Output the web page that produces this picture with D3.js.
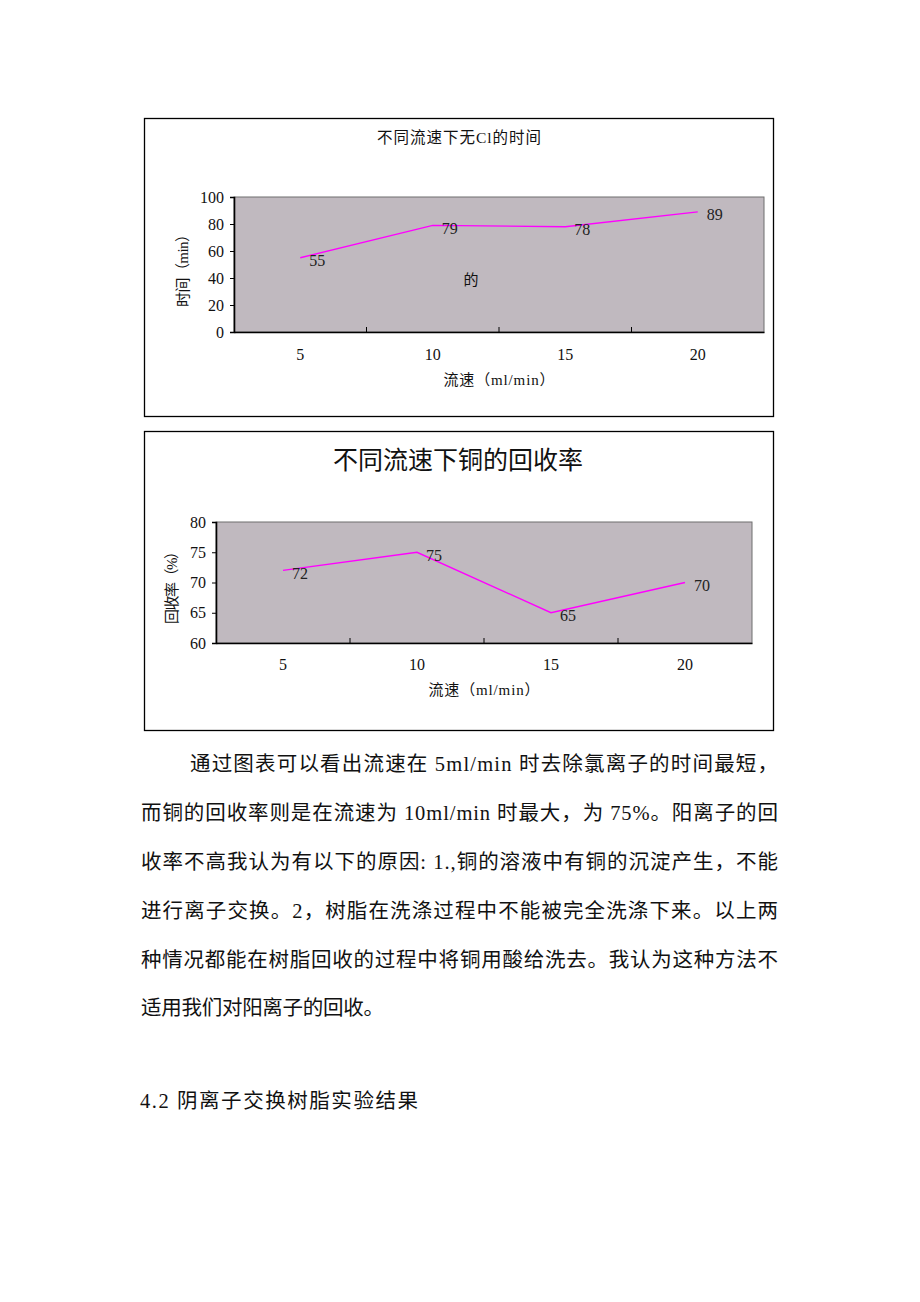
<!DOCTYPE html>
<html>
<head>
<meta charset="utf-8">
<script src="https://cdn.jsdelivr.net/npm/d3@7"></script>
<style>
  html, body { margin: 0; padding: 0; background: #fff; }
  svg { display: block; }
</style>
</head>
<body>
<svg id="page" width="920" height="1302"></svg>
<script>
// ---- data ----
const categories = ["5", "10", "15", "20"];
const timeValues = [55, 79, 78, 89];
const recoveryValues = [72, 75, 65, 70];
const timeTicks = [0, 20, 40, 60, 80, 100];
const recoveryTicks = [60, 65, 70, 75, 80];

const chart1Title = "不同流速下无Cl的时间";
const chart2Title = "不同流速下铜的回收率";
const xAxisTitle = "流速（ml/min）";
const chart1YTitle = "时间（min）";
const chart2YTitle = "回收率（%）";

const paragraphLines = [
  "通过图表可以看出流速在 5ml/min 时去除氯离子的时间最短，",
  "而铜的回收率则是在流速为 10ml/min 时最大，为 75%。阳离子的回",
  "收率不高我认为有以下的原因: 1.,铜的溶液中有铜的沉淀产生，不能",
  "进行离子交换。2，树脂在洗涤过程中不能被完全洗涤下来。以上两",
  "种情况都能在树脂回收的过程中将铜用酸给洗去。我认为这种方法不",
  "适用我们对阳离子的回收。"
];
const headingText = "4.2 阴离子交换树脂实验结果";

// ---- rendering ----
const svg = d3.select("#page");
const FONT = "'Liberation Serif', 'Noto Sans CJK SC', serif";

function drawChart(cfg) {
  const g = svg.append("g");
  // outer frame
  g.append("rect")
    .attr("x", cfg.frame.x + 0.5).attr("y", cfg.frame.y + 0.5)
    .attr("width", cfg.frame.w).attr("height", cfg.frame.h)
    .attr("fill", "#fff").attr("stroke", "#000").attr("stroke-width", 1.3);

  const x = d3.scaleBand().domain(categories).range([cfg.plot.l, cfg.plot.r]);
  const y = d3.scaleLinear().domain(cfg.yDomain).range([cfg.plot.b, cfg.plot.t]);

  // plot area
  g.append("rect")
    .attr("x", cfg.plot.l).attr("y", cfg.plot.t)
    .attr("width", cfg.plot.r - cfg.plot.l).attr("height", cfg.plot.b - cfg.plot.t)
    .attr("fill", "#c0b9bf").attr("stroke", "#6f6f6f").attr("stroke-width", 1);

  // title
  const tt = g.append("text")
    .attr("x", cfg.titleX).attr("y", cfg.titleY)
    .attr("text-anchor", "middle").attr("dominant-baseline", "central")
    .attr("font-family", FONT).attr("font-size", cfg.titleSize).attr("fill", "#111")
    .text(cfg.title);
  if (cfg.titleLen) tt.attr("textLength", cfg.titleLen).attr("lengthAdjust", "spacing");

  // y axis
  const yAxis = d3.axisLeft(y).tickValues(cfg.yTicks).tickSize(4).tickPadding(6).tickFormat(d3.format("d"));
  const ya = g.append("g").attr("transform", `translate(${cfg.plot.l},0)`).call(yAxis);
  ya.select(".domain").attr("stroke", "#000").attr("stroke-width", 1.6);
  ya.selectAll(".tick line").attr("stroke", "#000");
  ya.selectAll(".tick text").attr("font-family", FONT).attr("font-size", 16).attr("fill", "#111");

  // x axis (ticks between categories pointing inward)
  const xAxis = d3.axisBottom(x).tickSize(0).tickPadding(cfg.xLabelPad);
  const xa = g.append("g").attr("transform", `translate(0,${cfg.plot.b})`).call(xAxis);
  xa.select(".domain").attr("stroke", "#000").attr("stroke-width", 1.6);
  xa.selectAll(".tick text").attr("font-family", FONT).attr("font-size", 16).attr("fill", "#111");
  const boundaries = categories.slice(1).map(c => x(c));
  g.selectAll(".xsep").data(boundaries).enter().append("line")
    .attr("x1", d => d).attr("x2", d => d)
    .attr("y1", cfg.plot.b).attr("y2", cfg.plot.b - 5)
    .attr("stroke", "#000").attr("stroke-width", 1);

  // axis titles
  g.append("text")
    .attr("x", (cfg.plot.l + cfg.plot.r) / 2).attr("y", cfg.xTitleY)
    .attr("text-anchor", "middle").attr("dominant-baseline", "central")
    .attr("font-family", FONT).attr("font-size", 15).attr("fill", "#111")
    .attr("textLength", 111).attr("lengthAdjust", "spacing")
    .text(xAxisTitle);
  g.append("text")
    .attr("transform", `translate(${cfg.yTitleX},${cfg.yTitleY}) rotate(-90)`)
    .attr("text-anchor", "middle").attr("dominant-baseline", "central")
    .attr("font-family", FONT).attr("font-size", 15).attr("fill", "#111")
    .attr("textLength", 80).attr("lengthAdjust", "spacing")
    .text(cfg.yTitle);

  // line
  const line = d3.line().x((d, i) => x(categories[i]) + x.bandwidth() / 2).y(d => y(d));
  g.append("path").datum(cfg.values)
    .attr("d", line).attr("fill", "none")
    .attr("stroke", "#ff00ff").attr("stroke-width", 1.4);

  // data labels
  g.selectAll(".dl").data(cfg.values).enter().append("text")
    .attr("x", (d, i) => x(categories[i]) + x.bandwidth() / 2 + 9)
    .attr("y", d => y(d) + 3)
    .attr("dominant-baseline", "central")
    .attr("font-family", FONT).attr("font-size", 16).attr("fill", "#222")
    .text(d => d);
  return g;
}

const g1 = drawChart({
  frame: { x: 144, y: 118, w: 629, h: 298 },
  plot: { l: 234, t: 197, r: 764, b: 332 },
  yDomain: [0, 100], yTicks: timeTicks, values: timeValues,
  title: chart1Title, titleX: 459, titleY: 137, titleSize: 15.5, titleLen: 164,
  yTitle: chart1YTitle, yTitleX: 183, yTitleY: 267, xTitleY: 380, xLabelPad: 17
});
// stray character inside the first chart
g1.append("text").attr("x", 471).attr("y", 280)
  .attr("text-anchor", "middle").attr("dominant-baseline", "central")
  .attr("font-family", FONT).attr("font-size", 15).attr("fill", "#111")
  .text("的");

drawChart({
  frame: { x: 144, y: 431, w: 629, h: 299 },
  plot: { l: 216, t: 522, r: 752, b: 643 },
  yDomain: [60, 80], yTicks: recoveryTicks, values: recoveryValues,
  title: chart2Title, titleX: 458, titleY: 460, titleSize: 25,
  yTitle: chart2YTitle, yTitleX: 172, yTitleY: 584, xTitleY: 690, xLabelPad: 16
});

// paragraph text
const lineY = [764, 813, 862, 911, 960, 1008];
paragraphLines.forEach((t, i) => {
  const startX = i === 0 ? 190 : 141;
  const txt = svg.append("text")
    .attr("x", startX).attr("y", lineY[i])
    .attr("dominant-baseline", "central")
    .attr("font-family", FONT).attr("font-size", 20.5).attr("fill", "#111")
    .text(t);
  if (i < paragraphLines.length - 1) {
    txt.attr("textLength", 778 - startX).attr("lengthAdjust", "spacing");
  } else {
    txt.attr("textLength", 243).attr("lengthAdjust", "spacing");
  }
});
svg.append("text")
  .attr("x", 140).attr("y", 1101)
  .attr("dominant-baseline", "central")
  .attr("font-family", FONT).attr("font-size", 20.5).attr("fill", "#111")
  .attr("textLength", 278).attr("lengthAdjust", "spacing")
  .text(headingText);
</script>
</body>
</html>
